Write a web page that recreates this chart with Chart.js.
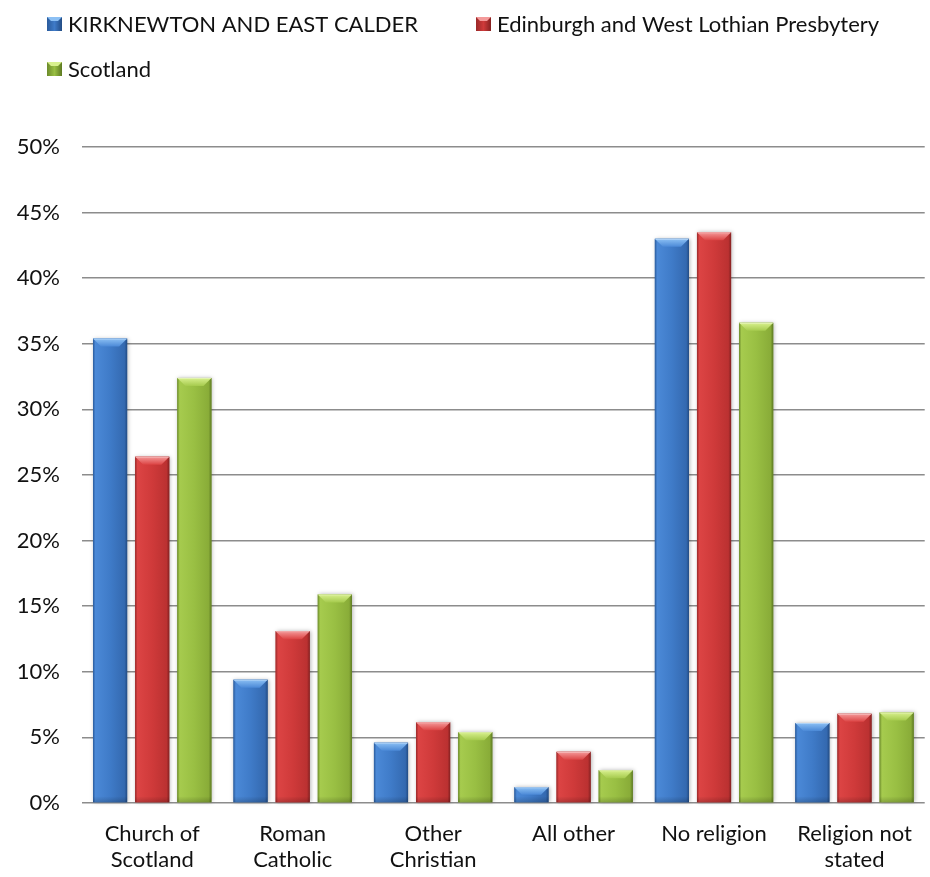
<!DOCTYPE html>
<html><head><meta charset="utf-8">
<script src="https://cdn.jsdelivr.net/npm/chart.js@4/dist/chart.umd.min.js"></script>
<style>html,body{margin:0;padding:0;background:#fff}#wrap{position:relative;width:930px;height:877px}</style>
</head><body><div id="wrap"><canvas id="c" width="930" height="877"></canvas></div>
<script>
const categories = [["Church of","Scotland"],["Roman","Catholic"],["Other","Christian"],"All other","No religion",["Religion not","stated"]];
const seriesNames = ["KIRKNEWTON AND EAST CALDER","Edinburgh and West Lothian Presbytery","Scotland"];
const kirknewton = [35.4, 9.4, 4.6, 1.2, 43.0, 6.1];
const presbytery = [26.4, 13.1, 6.15, 3.9, 43.5, 6.8];
const scotland   = [32.4, 15.9, 5.4, 2.5, 36.6, 6.9];
const yMin = 0, yMax = 50, yStep = 5;

const FONT = "Lato, 'Open Sans', sans-serif";
const palettes = [
  {edge:'#2a5b9c', hi:'#4b89d7', mid:'#3f7bc8', lo:'#3469b0', dark:'#234c84', bevel:'#8cc0f4'},
  {edge:'#9a2929', hi:'#dc4444', mid:'#cf3a3a', lo:'#bb3131', dark:'#842121', bevel:'#f49a9a'},
  {edge:'#6c8b2b', hi:'#a6cb4e', mid:'#99bf43', lo:'#89ac38', dark:'#5d7a22', bevel:'#d8f08e'}
];

const bevelPlugin = {
  id: 'bevel',
  afterDatasetsDraw(chart) {
    const ctx = chart.ctx;
    chart.data.datasets.forEach((ds, i) => {
      const meta = chart.getDatasetMeta(i);
      if (meta.hidden) return;
      const p = palettes[i];
      meta.data.forEach(bar => {
        const {x, y, base, width} = bar.getProps(['x','y','base','width'], true);
        const l = x - width/2, r = x + width/2, t = Math.min(y, base), b = Math.max(y, base);
        const h = b - t;
        if (h <= 0) return;
        ctx.save();
        ctx.shadowColor = 'rgba(0,0,0,0.28)';
        ctx.shadowBlur = 4; ctx.shadowOffsetX = 1; ctx.shadowOffsetY = 0;
        const g = ctx.createLinearGradient(l, 0, r, 0);
        g.addColorStop(0, p.edge);
        g.addColorStop(0.07, p.hi);
        g.addColorStop(0.5, p.mid);
        g.addColorStop(0.92, p.lo);
        g.addColorStop(1, p.dark);
        ctx.fillStyle = g;
        ctx.fillRect(l, t, width, h);
        ctx.restore();
        ctx.save();
        const gb = ctx.createLinearGradient(0, b - 6, 0, b);
        gb.addColorStop(0, 'rgba(0,0,0,0)');
        gb.addColorStop(1, 'rgba(0,0,0,0.18)');
        ctx.fillStyle = gb;
        ctx.fillRect(l, b - 6, width, 6);
        const bv = Math.min(8, h / 2, width / 4);
        const gt = ctx.createLinearGradient(0, t, 0, t + bv);
        gt.addColorStop(0, p.bevel);
        gt.addColorStop(1, p.hi);
        ctx.fillStyle = gt;
        ctx.beginPath();
        ctx.moveTo(l, t); ctx.lineTo(r, t); ctx.lineTo(r - bv, t + bv); ctx.lineTo(l + bv, t + bv); ctx.closePath();
        ctx.fill();
        ctx.strokeStyle = 'rgba(255,255,255,0.35)';
        ctx.lineWidth = 1;
        ctx.beginPath(); ctx.moveTo(l + 0.5, t + 0.5); ctx.lineTo(r - 0.5, t + 0.5); ctx.stroke();
        ctx.restore();
      });
    });
  }
};

const legendPlugin = {
  id: 'customLegend',
  afterDraw(chart) {
    const ctx = chart.ctx;
    ctx.save();
    ctx.font = "22px " + FONT;
    ctx.textBaseline = 'middle';
    const items = [{di: 0, x: 47, y: 24}, {di: 1, x: 476, y: 24}, {di: 2, x: 47, y: 69}];
    items.forEach(it => {
      const p = palettes[it.di];
      const bx = it.x, by = it.y - 7, bw = 15, bh = 14;
      const g = ctx.createLinearGradient(bx, 0, bx + bw, 0);
      g.addColorStop(0, p.edge); g.addColorStop(0.5, p.mid); g.addColorStop(1, p.dark);
      ctx.fillStyle = g;
      ctx.fillRect(bx, by, bw, bh);
      ctx.fillStyle = p.bevel;
      ctx.beginPath(); ctx.moveTo(bx, by); ctx.lineTo(bx + bw, by); ctx.lineTo(bx + bw - 4, by + 4); ctx.lineTo(bx + 4, by + 4); ctx.closePath(); ctx.fill();
      ctx.fillStyle = '#111';
      ctx.fillText(chart.data.datasets[it.di].label, bx + bw + 6, it.y + 1);
    });
    ctx.restore();
  }
};

const yTicks = [];
for (let v = yMin; v <= yMax; v += yStep) yTicks.push(v);

new Chart(document.getElementById('c'), {
  type: 'bar',
  data: {
    labels: categories,
    datasets: [
      {label: seriesNames[0], data: kirknewton, backgroundColor: palettes[0].mid},
      {label: seriesNames[1], data: presbytery, backgroundColor: palettes[1].mid},
      {label: seriesNames[2], data: scotland, backgroundColor: palettes[2].mid}
    ]
  },
  options: {
    responsive: false,
    animation: false,
    devicePixelRatio: 1,
    layout: {padding: {top: 147, left: 0, right: 2, bottom: 0}},
    datasets: {bar: {categoryPercentage: 0.9, barPercentage: 0.81}},
    plugins: {legend: {display: false}, tooltip: {enabled: false}},
    scales: {
      x: {
        afterFit(scale) { scale.height = 74; },
        grid: {display: false, drawTicks: false},
        border: {display: false},
        ticks: {font: {family: FONT, size: 22, lineHeight: 1.18}, color: '#111', padding: 18, maxRotation: 0, autoSkip: false}
      },
      y: {
        min: yMin, max: yMax,
        afterBuildTicks(scale) { scale.ticks = yTicks.map(v => ({value: v})); },
        afterFit(scale) { scale.width = 82; },
        grid: {color: '#8c8c8c', lineWidth: 1.5, drawTicks: false},
        border: {display: false},
        ticks: {font: {family: FONT, size: 22}, color: '#111', padding: 22, callback: v => v + '%'}
      }
    }
  },
  plugins: [bevelPlugin, legendPlugin]
});
</script>
</body></html>
